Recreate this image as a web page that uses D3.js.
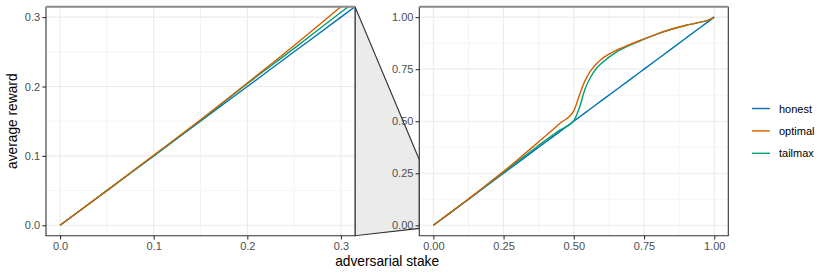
<!DOCTYPE html>
<html>
<head>
<meta charset="utf-8">
<title>adversarial stake</title>
<script src="https://cdnjs.cloudflare.com/ajax/libs/d3/7.8.5/d3.min.js"></script>
<style>
  body { margin: 0; background: white }
  text { font-family: "Liberation Sans", Arial, sans-serif }
</style>
</head>
<body>
<div id="chart"></div>
<script>
// values
var stake   = [0, 0.05, 0.1, 0.15, 0.2, 0.25, 0.3, 0.35, 0.4, 0.45, 0.5, 0.52, 0.54, 0.56, 0.58, 0.6, 0.65, 0.7, 0.75, 0.8, 0.85, 0.9, 0.95, 0.975, 1.0];
var honest  = [0, 0.05, 0.1, 0.15, 0.2, 0.25, 0.3, 0.35, 0.4, 0.45, 0.5, 0.52, 0.54, 0.56, 0.58, 0.6, 0.65, 0.7, 0.75, 0.8, 0.85, 0.9, 0.95, 0.975, 1.0];
var optimal = [0, 0.05, 0.101, 0.152, 0.205, 0.259, 0.315, 0.372, 0.43, 0.489, 0.55, 0.625, 0.695, 0.742, 0.775, 0.8, 0.84, 0.869, 0.895, 0.921, 0.943, 0.961, 0.976, 0.983, 1.0];
var tailmax = [0, 0.05, 0.1, 0.151, 0.204, 0.255, 0.307, 0.358, 0.409, 0.457, 0.503, 0.565, 0.655, 0.712, 0.753, 0.78, 0.831, 0.865, 0.894, 0.921, 0.943, 0.961, 0.976, 0.983, 1.0];

var seriesNames  = ["honest", "optimal", "tailmax"];
var seriesColors = ["#0072B2", "#D55E00", "#009E73"];
var zoomTicks = [0, 0.1, 0.2, 0.3];
var fullTicks = [0, 0.25, 0.5, 0.75, 1];

var W = 830, H = 277;
var svg = d3.select("#chart").append("svg")
    .attr("width", W).attr("height", H)
    .style("display", "block");
svg.append("rect").attr("width", W).attr("height", H).attr("fill", "white");

var top_ = 6.7, bot = 235.7;
var xL = d3.scaleLinear().domain([-0.015, 0.315]).range([46, 355]);
var yL = d3.scaleLinear().domain([-0.015, 0.315]).range([bot, top_]);
var xR = d3.scaleLinear().domain([-0.05, 1.05]).range([419.3, 728.3]);
var yR = d3.scaleLinear().domain([-0.05, 1.05]).range([bot, top_]);

var series = [
  {name: "honest", vals: honest, color: seriesColors[0]},
  {name: "tailmax", vals: tailmax, color: seriesColors[2]},
  {name: "optimal", vals: optimal, color: seriesColors[1]}
];

// zoom connector
var conn = [
  [xL.range()[1], top_],
  [xR.range()[0], yR(0.315)],
  [xR.range()[0], yR(-0.015)],
  [xL.range()[1], bot]
];
svg.append("path")
  .attr("d", "M" + conn.join("L") + "Z")
  .attr("fill", "#ebebeb")
  .attr("stroke", "#333")
  .attr("stroke-width", 1.1);

function panel(id, x, y, ticks, minor, fmt) {
  var g = svg.append("g");
  var x0 = x.range()[0], x1 = x.range()[1];
  g.append("rect").attr("x", x0).attr("y", top_)
    .attr("width", x1 - x0).attr("height", bot - top_).attr("fill", "white");

  g.selectAll(".vmin").data(minor).join("line")
    .attr("x1", d => x(d)).attr("x2", d => x(d)).attr("y1", top_).attr("y2", bot)
    .attr("stroke", "#ebebeb").attr("stroke-width", 0.55);
  g.selectAll(".hmin").data(minor).join("line").attr("class", "hmin")
    .attr("y1", d => y(d)).attr("y2", d => y(d)).attr("x1", x0).attr("x2", x1)
    .attr("stroke", "#ebebeb").attr("stroke-width", 0.55);
  g.selectAll(".vmaj").data(ticks).join("line").attr("class", "vmaj")
    .attr("x1", d => x(d)).attr("x2", d => x(d)).attr("y1", top_).attr("y2", bot)
    .attr("stroke", "#ebebeb").attr("stroke-width", 1.1);
  g.selectAll(".hmaj").data(ticks).join("line").attr("class", "hmaj")
    .attr("y1", d => y(d)).attr("y2", d => y(d)).attr("x1", x0).attr("x2", x1)
    .attr("stroke", "#ebebeb").attr("stroke-width", 1.1);

  svg.append("clipPath").attr("id", id)
    .append("rect").attr("x", x0).attr("y", top_)
    .attr("width", x1 - x0).attr("height", bot - top_);

  var line = d3.line()
    .x((d, i) => x(stake[i]))
    .y(d => y(d))
    .curve(d3.curveMonotoneX);

  g.append("g").attr("clip-path", "url(#" + id + ")")
    .selectAll("path").data(series).join("path")
    .attr("d", d => line(d.vals))
    .attr("fill", "none")
    .attr("stroke", d => d.color)
    .attr("stroke-width", 1.4);

  // border: grey on top, dark elsewhere
  g.append("path")
    .attr("d", "M" + x0 + "," + top_ + "L" + x0 + "," + bot + "L" + x1 + "," + bot + "L" + x1 + "," + top_)
    .attr("fill", "none").attr("stroke", "#333").attr("stroke-width", 1.1);
  g.append("line").attr("x1", x0).attr("x2", x1).attr("y1", top_).attr("y2", top_)
    .attr("stroke", "#8a8a8a").attr("stroke-width", 2);

  var ax = g.append("g").attr("transform", "translate(0," + bot + ")")
    .call(d3.axisBottom(x).tickValues(ticks).tickFormat(d3.format(fmt)).tickSize(3.7).tickPadding(2.4));
  var ay = g.append("g").attr("transform", "translate(" + x0 + ",0)")
    .call(d3.axisLeft(y).tickValues(ticks).tickFormat(d3.format(fmt)).tickSize(3.7).tickPadding(2.2));
  [ax, ay].forEach(function(a) {
    a.select(".domain").remove();
    a.selectAll(".tick line").attr("stroke", "#333").attr("stroke-width", 1.1);
    a.selectAll(".tick text").attr("fill", "#4d4d4d").style("font-size", "11px")
      .style("font-family", "'Liberation Sans', Arial, sans-serif");
  });
}

panel("clipL", xL, yL, zoomTicks, [0.05, 0.15, 0.25], ".1f");
panel("clipR", xR, yR, fullTicks, [0.125, 0.375, 0.625, 0.875], ".2f");

// axis titles
svg.append("text")
  .attr("transform", "translate(17," + ((top_ + bot) / 2) + ") rotate(-90)")
  .attr("text-anchor", "middle")
  .style("font-size", "13.75px").attr("fill", "black")
  .text("average reward");
svg.append("text")
  .attr("x", (46 + 728.3) / 2).attr("y", 266)
  .attr("text-anchor", "middle")
  .style("font-size", "13.75px").attr("fill", "black")
  .text("adversarial stake");

// legend
var leg = svg.append("g").attr("transform", "translate(752,108.5)");
var item = leg.selectAll("g").data(seriesNames).join("g")
  .attr("transform", (d, i) => "translate(0," + (i * 22.4) + ")");
item.append("line").attr("x1", 0).attr("x2", 18).attr("y1", 0).attr("y2", 0)
  .attr("stroke", (d, i) => seriesColors[i]).attr("stroke-width", 1.4);
item.append("text").attr("x", 27).attr("y", 4)
  .style("font-size", "11px").attr("fill", "black")
  .text(d => d);
</script>
</body>
</html>
